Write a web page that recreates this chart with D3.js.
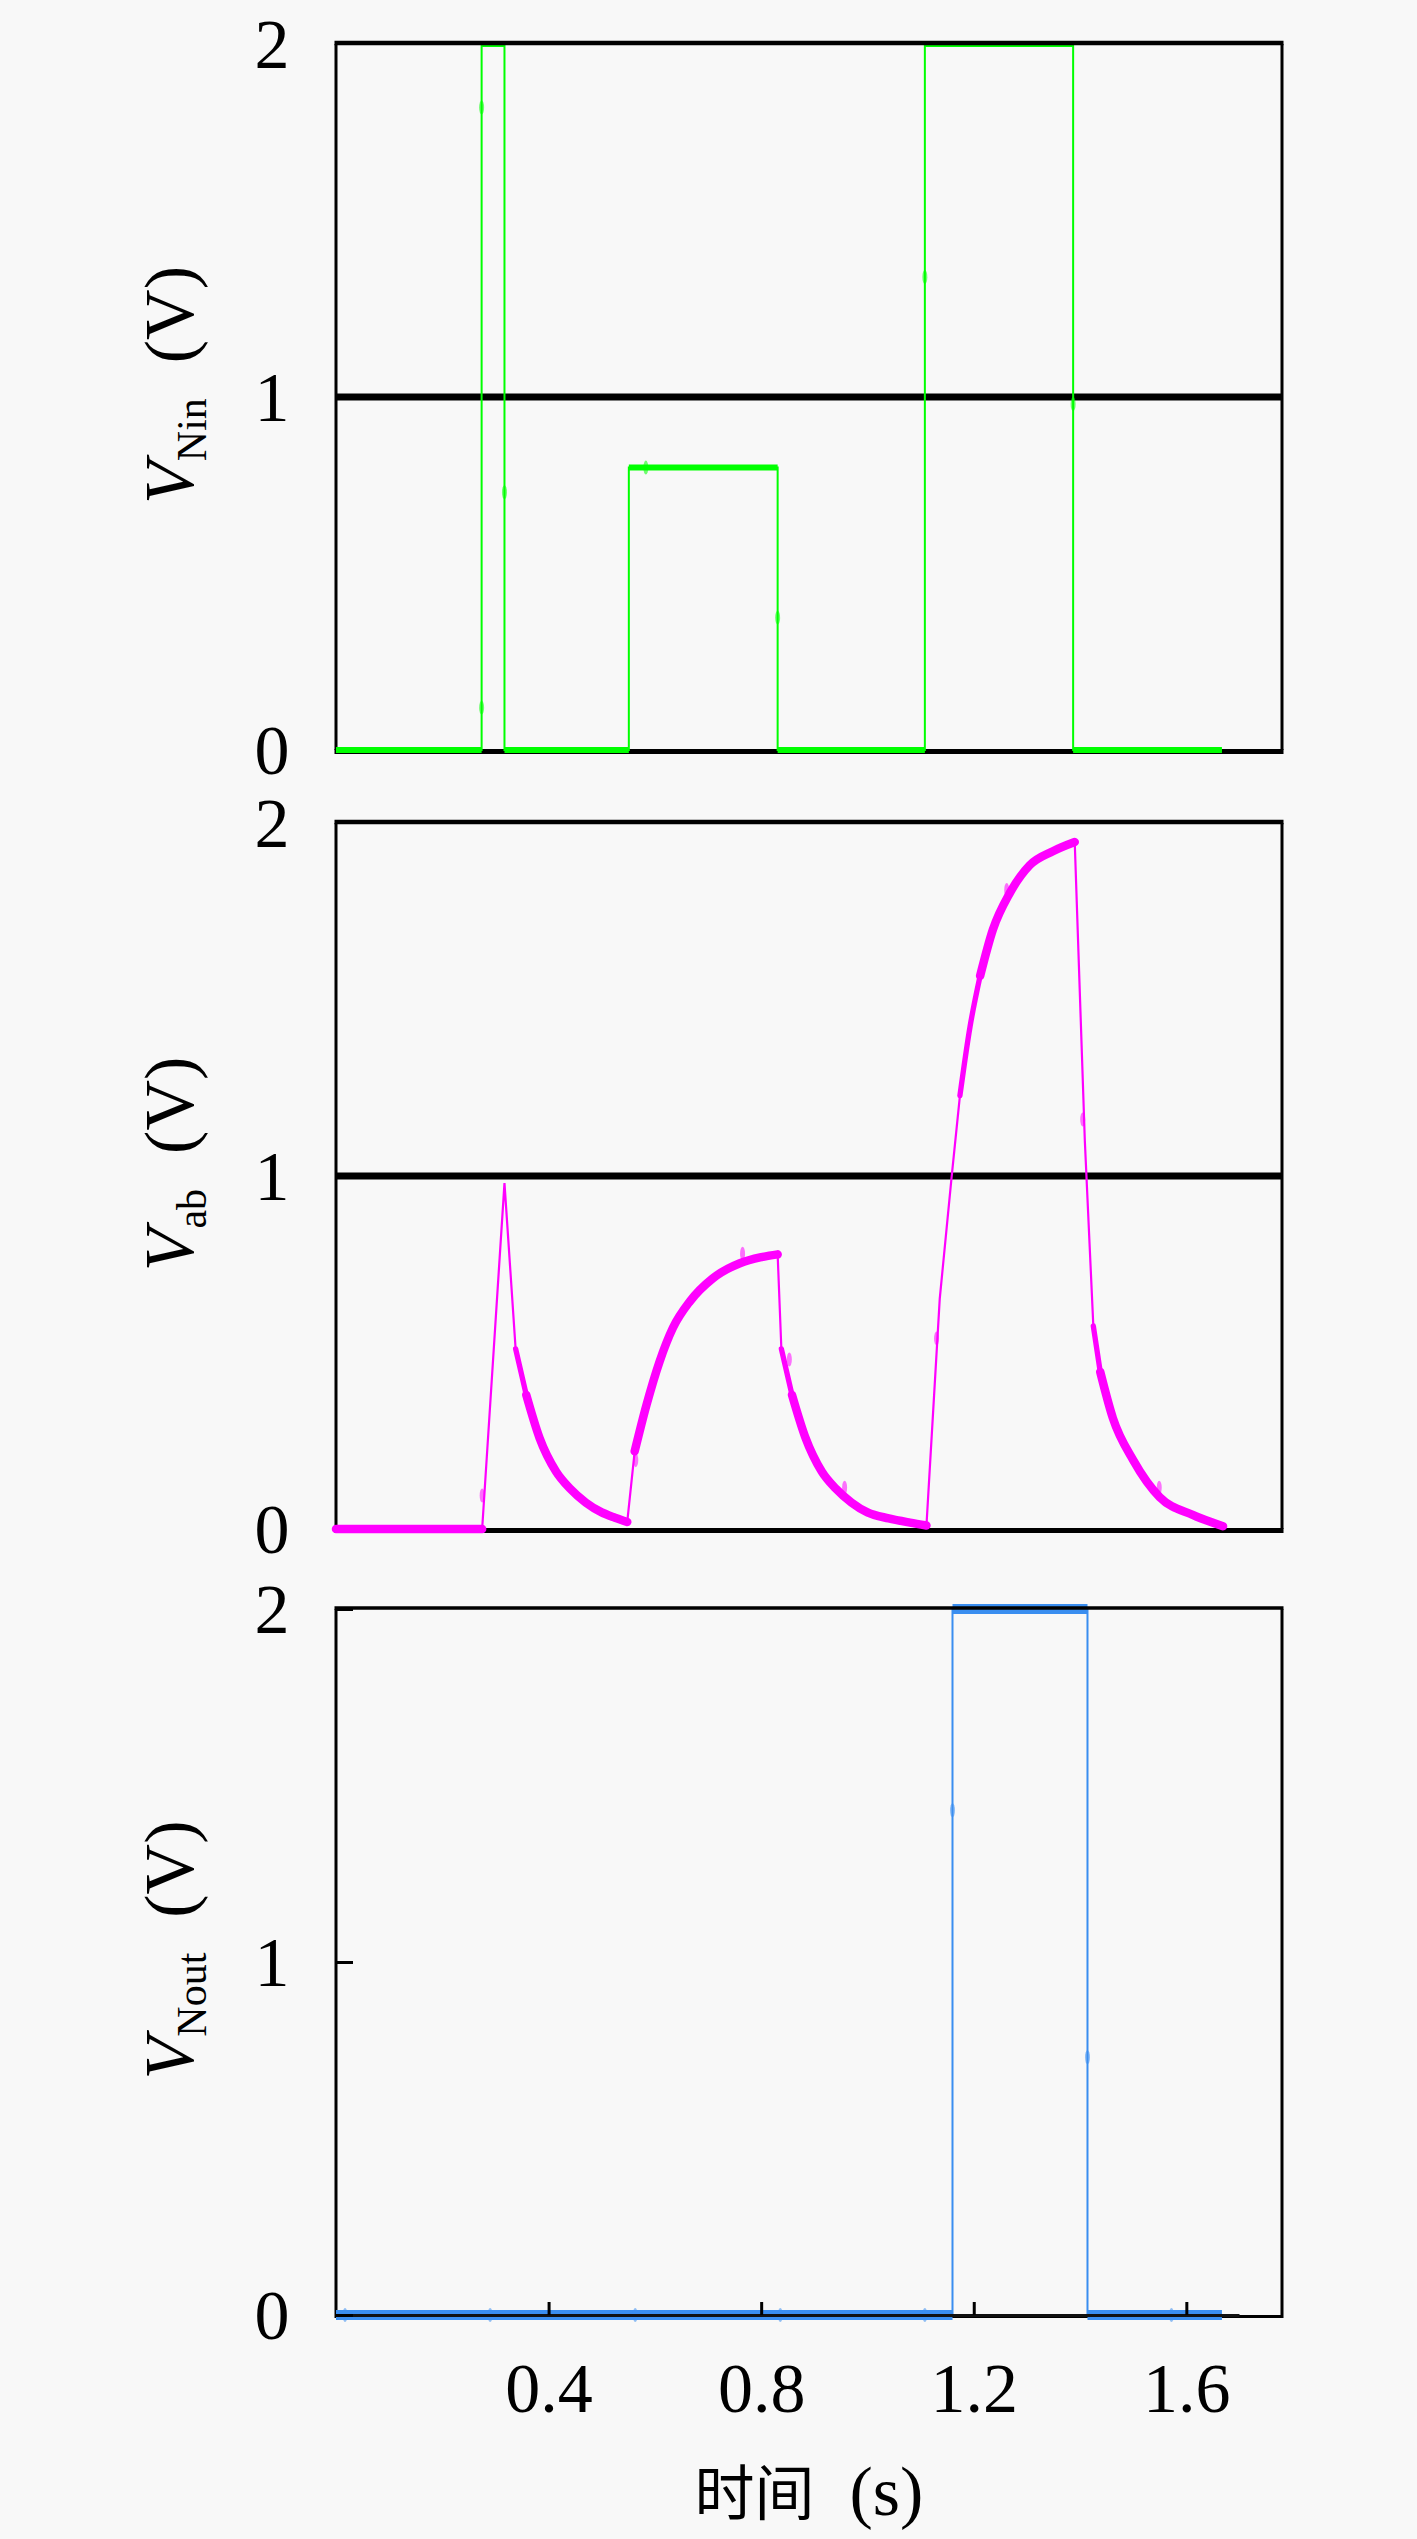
<!DOCTYPE html>
<html>
<head>
<meta charset="utf-8">
<script src="https://cdn.jsdelivr.net/npm/d3@7"></script>
<style>
  html, body { margin: 0; padding: 0; background: #f8f8f8; }
  svg { display: block; }
</style>
</head>
<body>
<svg id="chart" width="1417" height="2539"></svg>
<script>
// ---------------- data ----------------
const xDomain = [0, 1.78];
const yDomain = [0, 2];
const xTickValues = [0.4, 0.8, 1.2, 1.6];
const xTickLabels = ["0.4", "0.8", "1.2", "1.6"];
const yTickValues = [0, 1, 2];
const yTickLabels = ["0", "1", "2"];

const panelSubscripts = ["Nin", "ab", "Nout"];
const xAxisTitleCJK = "时间";
const xAxisTitleUnit = "(s)";

// V_Nin (input voltage, step waveform)
const vNinTime = [0, 0.274, 0.274, 0.317, 0.317, 0.551, 0.551, 0.831, 0.831, 1.108, 1.108, 1.387, 1.387, 1.667];
const vNinVolt = [0, 0, 2, 2, 0, 0, 0.8, 0.8, 0, 0, 2, 2, 0, 0];
const vNinMarkTime = [0.274, 0.274, 0.317, 0.583, 0.831, 1.108, 1.387];
const vNinMarkVolt = [1.82, 0.12, 0.73, 0.8, 0.375, 1.34, 0.98];

// V_ab (node voltage)
const vAbTime = [0, 0.275, 0.317, 0.338, 0.358, 0.383, 0.414, 0.44, 0.47, 0.50, 0.525, 0.548,
  0.562, 0.584, 0.609, 0.634, 0.666, 0.709, 0.76, 0.80, 0.831,
  0.838, 0.858, 0.883, 0.914, 0.94, 0.97, 1.00, 1.04, 1.08, 1.111,
  1.136, 1.158, 1.174, 1.193, 1.212, 1.236, 1.268, 1.305, 1.349, 1.390,
  1.409, 1.425, 1.438, 1.462, 1.50, 1.55, 1.612, 1.669];
const vAbVolt = [0, 0, 0.98, 0.51, 0.38, 0.258, 0.163, 0.115, 0.075, 0.047, 0.032, 0.02,
  0.22, 0.35, 0.475, 0.57, 0.645, 0.71, 0.753, 0.77, 0.778,
  0.51, 0.38, 0.26, 0.163, 0.115, 0.075, 0.047, 0.03, 0.018, 0.01,
  0.652, 0.992, 1.228, 1.423, 1.567, 1.698, 1.802, 1.88, 1.92, 1.946,
  1.10, 0.575, 0.445, 0.313, 0.195, 0.09, 0.04, 0.008];
const vAbMarkTime = [0.275, 0.357, 0.564, 0.765, 0.853, 0.957, 1.13, 1.262, 1.405, 1.549];
const vAbMarkVolt = [0.095, 0.38, 0.195, 0.78, 0.48, 0.117, 0.54, 1.81, 1.16, 0.117];

// V_Nout (output voltage)
const vNoutTime = [0, 1.160, 1.160, 1.414, 1.414, 1.667];
const vNoutVolt = [0, 0, 2, 2, 0, 0];
const vNoutMarkTime = [0.017, 0.29, 0.563, 0.836, 1.108, 1.572, 1.160, 1.414];
const vNoutMarkVolt = [0, 0, 0, 0, 0, 0, 1.43, 0.73];

// reference lines
const thresholdLevels = [1, 1, null];
const zeroRefEnd = 1.70;

// ---------------- layout / style ----------------
const W = 1417, H = 2539;
const plotLeft = 336, plotRight = 1282;
const panelTops = [44, 823, 1609];
const panelH = 706;
const colors = ["#00ff00", "#ff00ff", "#3a8ef0"];
const serif = "'Liberation Serif', 'DejaVu Serif', serif";

const svg = d3.select("#chart");
svg.append("rect").attr("width", W).attr("height", H).attr("fill", "#f8f8f8");

const x = d3.scaleLinear().domain(xDomain).range([plotLeft, plotRight]);

const series = [
  { t: vNinTime, v: vNinVolt, mt: vNinMarkTime, mv: vNinMarkVolt, thick: 6, thin: 2, curve: d3.curveLinear },
  { t: vAbTime, v: vAbVolt, mt: vAbMarkTime, mv: vAbMarkVolt, thick: 8.5, thin: 2.2, curve: d3.curveMonotoneX },
  { t: vNoutTime, v: vNoutVolt, mt: vNoutMarkTime, mv: vNoutMarkVolt, thick: 10, thin: 2, curve: d3.curveLinear }
];

panelTops.forEach((top, i) => {
  const y = d3.scaleLinear().domain(yDomain).range([top + panelH, top]);
  const g = svg.append("g");
  const s = series[i];
  const pts = s.t.map((t, k) => [t, s.v[k]]);
  const x0 = x(xDomain[0]), x1 = x(xDomain[1]);
  const yt = y(yDomain[1]), yb = y(yDomain[0]);

  // frame: sides and bottom under traces
  g.append("line").attr("x1", x0).attr("x2", x0).attr("y1", yt).attr("y2", yb)
    .attr("stroke", "#000").attr("stroke-width", 3);
  g.append("line").attr("x1", x1).attr("x2", x1).attr("y1", yt).attr("y2", yb)
    .attr("stroke", "#000").attr("stroke-width", 3);
  g.append("line").attr("x1", x0 - 1.5).attr("x2", x1 + 1.5).attr("y1", yb + 1.5).attr("y2", yb + 1.5)
    .attr("stroke", "#000").attr("stroke-width", i < 2 ? 5 : 3);

  // threshold line (under traces)
  if (thresholdLevels[i] !== null) {
    g.append("line")
      .attr("x1", x0).attr("x2", x1)
      .attr("y1", y(thresholdLevels[i])).attr("y2", y(thresholdLevels[i]))
      .attr("stroke", "#000").attr("stroke-width", 7);
  }

  const smooth = d3.line().x(d => x(d[0])).y(d => y(d[1])).curve(s.curve);
  const straight = d3.line().x(d => x(d[0])).y(d => y(d[1]));

  // runs of gently sloped segments drawn thicker (dense samples overlap in the source)
  const runs = [];
  let cur = null, curCls = -1;
  for (let k = 0; k < pts.length - 1; k++) {
    const dx = Math.abs(x(pts[k + 1][0]) - x(pts[k][0]));
    const dy = Math.abs(y(pts[k + 1][1]) - y(pts[k][1]));
    const slope = dy / Math.max(dx, 0.001);
    const cls = slope <= 4 ? 2 : (slope <= 8 ? 1 : 0);
    if (cls === 0) { cur = null; curCls = -1; continue; }
    if (!cur || cls !== curCls) {
      cur = { cls, pts: [pts[k]] };
      runs.push(cur);
      curCls = cls;
    }
    cur.pts.push(pts[k + 1]);
  }
  g.selectAll("path.run").data(runs).enter().append("path")
    .attr("class", "run")
    .attr("d", d => smooth(d.pts))
    .attr("fill", "none").attr("stroke", colors[i])
    .attr("stroke-width", d => d.cls === 2 ? s.thick : (s.thick + s.thin) / 2)
    .attr("stroke-linecap", i === 1 ? "round" : "butt").attr("stroke-linejoin", "round");

  // thin continuous line
  g.append("path")
    .datum(pts)
    .attr("d", straight)
    .attr("fill", "none").attr("stroke", colors[i]).attr("stroke-width", s.thin)
    .attr("stroke-linejoin", "miter");

  // small markers
  g.selectAll("ellipse.mk").data(s.mt.map((t, k) => [t, s.mv[k]])).enter().append("ellipse")
    .attr("class", "mk")
    .attr("cx", d => x(d[0])).attr("cy", d => y(d[1]))
    .attr("rx", 2.5).attr("ry", 7)
    .attr("fill", colors[i]).attr("opacity", 0.55);

  // zero reference line in bottom panel (on top of trace)
  if (i === 2) {
    g.append("line")
      .attr("x1", x(0)).attr("x2", x(zeroRefEnd))
      .attr("y1", y(0) + 0.5).attr("y2", y(0) + 0.5)
      .attr("stroke", "#111").attr("stroke-width", 3);
  }

  // top border over traces
  g.append("line").attr("x1", x0 - 1.5).attr("x2", x1 + 1.5).attr("y1", yt - 1).attr("y2", yt - 1)
    .attr("stroke", "#000").attr("stroke-width", i < 2 ? 4.5 : 3.5);

  // y axis
  const yAxis = d3.axisLeft(y).tickValues(yTickValues)
    .tickFormat((d, k) => yTickLabels[k])
    .tickSize(i === 2 ? -17 : 0).tickPadding(49);
  const ya = g.append("g").attr("transform", `translate(${plotLeft},0)`).call(yAxis);
  ya.select(".domain").remove();
  ya.selectAll(".tick line").attr("stroke", "#000").attr("stroke-width", 3);
  ya.selectAll(".tick text")
    .attr("font-family", serif).attr("font-size", 70).attr("fill", "#000")
    .attr("text-anchor", "middle").attr("x", -64).attr("dy", "0.33em");

  // y axis title
  const cy = top + panelH / 2 - 12;
  const title = g.append("text")
    .attr("transform", `translate(193,${cy}) rotate(-90)`)
    .attr("text-anchor", "middle")
    .attr("font-family", serif).attr("font-size", 70).attr("fill", "#000");
  title.append("tspan").attr("font-style", "italic").text("V");
  title.append("tspan").attr("font-size", 42).attr("dy", 13).text(panelSubscripts[i]);
  title.append("tspan").attr("dy", -13).text("\u2002(V)");

  // x axis (bottom panel only)
  if (i === 2) {
    const xAxis = d3.axisBottom(x).tickValues(xTickValues)
      .tickFormat((d, k) => xTickLabels[k])
      .tickSize(-13).tickPadding(47);
    const xa = g.append("g").attr("transform", `translate(0,${yb})`).call(xAxis);
    xa.select(".domain").remove();
    xa.selectAll(".tick line").attr("stroke", "#000").attr("stroke-width", 3);
    xa.selectAll(".tick text")
      .attr("font-family", serif).attr("font-size", 70).attr("fill", "#000");

    const xt = svg.append("text")
      .attr("x", (plotLeft + plotRight) / 2).attr("y", 2515)
      .attr("text-anchor", "middle").attr("fill", "#000");
    xt.append("tspan").attr("font-family", "'Noto Sans CJK SC', sans-serif")
      .attr("font-size", 60).text(xAxisTitleCJK);
    xt.append("tspan").attr("font-family", serif).attr("font-size", 70)
      .text("\u2002" + xAxisTitleUnit);
  }
});
</script>
</body>
</html>
